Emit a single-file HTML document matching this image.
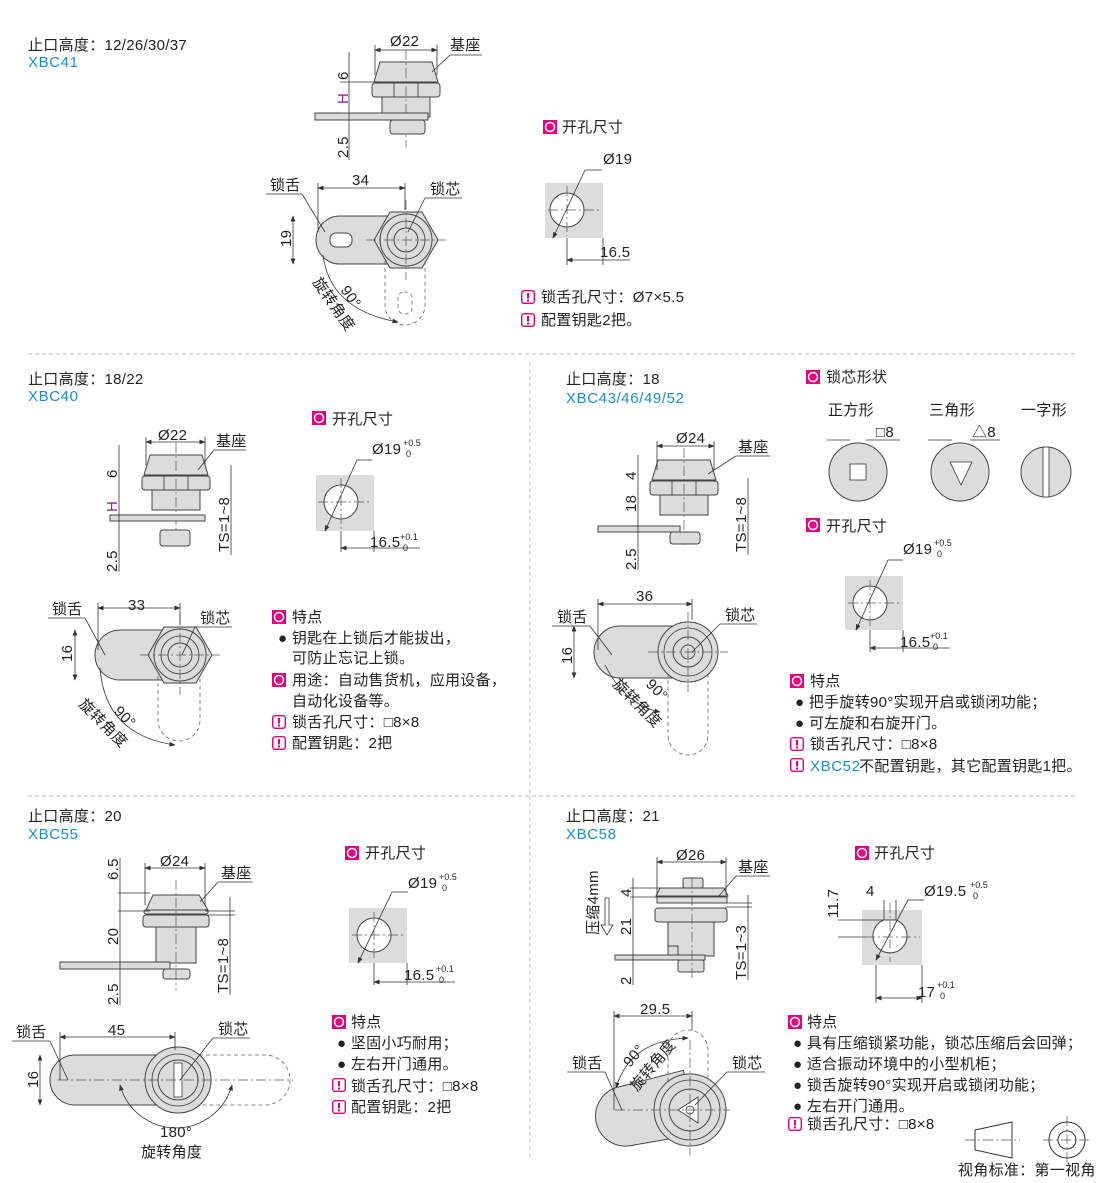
<!DOCTYPE html>
<html><head><meta charset="utf-8"><style>
html,body{margin:0;padding:0;background:#fff;}
svg{display:block;font-family:"Liberation Sans","Noto Sans CJK SC",sans-serif;}
.t{font-size:15px;fill:#222;letter-spacing:0.3px;}
.b{font-size:15px;fill:#1a8ccf;letter-spacing:0.6px;}
.s{font-size:13px;fill:#222;}
.sup{font-size:9px;fill:#222;}
.g{fill:#dcdcdc;stroke:#444;stroke-width:1;}
.l{stroke:#333;stroke-width:0.8;fill:none;}
.c{stroke:#555;stroke-width:0.7;fill:none;stroke-dasharray:10 3 2 3;}
.d{stroke:#666;stroke-width:0.8;fill:none;stroke-dasharray:4 3;}
.sep{stroke:#bbb;stroke-width:1;stroke-dasharray:4 3;}
</style></head><body>
<svg width="1110" height="1183" viewBox="0 0 1110 1183" xmlns="http://www.w3.org/2000/svg">
<defs>
<symbol id="side" overflow="visible">
<polygon class="g" points="-26,0 26,0 32,20 -32,20"/>
<rect class="g" x="-34" y="21" width="68" height="14" rx="3"/>
<line class="l" x1="-12" y1="21" x2="-12" y2="35"/><line class="l" x1="12" y1="21" x2="12" y2="35"/>
<rect class="g" x="-24" y="35" width="48" height="20"/>
<line class="c" x1="0" y1="-12" x2="0" y2="85"/>
</symbol>
<symbol id="plan" overflow="visible">
<polygon class="g" points="32,0 16,28 -16,28 -32,0 -16,-28 16,-28"/>
<circle class="g" r="26"/><circle class="l" r="19"/><circle class="g" r="12"/>
<line class="c" x1="-40" y1="0" x2="40" y2="0"/><line class="c" x1="0" y1="-40" x2="0" y2="40"/>
</symbol>
<symbol id="ic1" overflow="visible"><rect x="0" y="0" width="14" height="14" fill="#e4007f"/><circle cx="7" cy="7" r="4.5" fill="none" stroke="#fff" stroke-width="1.5"/></symbol>
<symbol id="ic2" overflow="visible"><rect x="0.7" y="0.7" width="12.6" height="12.6" rx="2.5" fill="#fff" stroke="#e4007f" stroke-width="1.4"/><rect x="6" y="3" width="2" height="5.5" fill="#e4007f"/><rect x="6" y="9.5" width="2" height="2" fill="#e4007f"/></symbol>
<marker id="a" markerWidth="8" markerHeight="6" refX="7" refY="3" orient="auto-start-reverse"><path d="M0,0L8,3L0,6z" fill="#333"/></marker>
</defs>

<line class="sep" x1="28" y1="354" x2="1078" y2="354"/>
<line class="sep" x1="28" y1="796" x2="1078" y2="796"/>
<line class="sep" x1="530" y1="362" x2="530" y2="1160"/>

<!-- ===== Section 1 ===== -->
<text class="t" x="28" y="50">止口高度：12/26/30/37</text>
<text class="b" x="28" y="67">XBC41</text>
<use href="#side" x="406" y="62"/>
<rect class="g" x="315" y="113" width="113" height="7"/>
<rect class="g" x="390" y="120" width="35" height="14" rx="3"/>
<line class="l" x1="375" y1="50" x2="437" y2="50" marker-start="url(#a)" marker-end="url(#a)"/>
<line class="l" x1="375" y1="45" x2="375" y2="75"/><line class="l" x1="437" y1="45" x2="437" y2="75"/>
<text class="t" x="390" y="46">Ø22</text>
<text class="t" x="450" y="50">基座</text><line class="l" x1="432" y1="72" x2="450" y2="55"/><line class="l" x1="450" y1="55" x2="482" y2="55"/>
<line class="l" x1="349" y1="52" x2="349" y2="160"/>
<line class="l" x1="340" y1="82" x2="380" y2="82"/><line class="l" x1="340" y1="113" x2="320" y2="113"/>
<text class="t" transform="translate(348,80) rotate(-90)">6</text>
<text class="t" transform="translate(348,104) rotate(-90)" style="fill:#8a2a8a">H</text>
<text class="t" transform="translate(348,158) rotate(-90)">2.5</text>
<path class="g" d="M340,216 L405,216 L405,264 L340,264 A24,24 0 0 1 340,216z"/>
<rect class="g" x="330" y="233" width="22" height="14" rx="6" style="fill:#fff"/>
<path class="d" d="M385,240 L385,305 A20,20 0 0 0 425,305 L425,240"/>
<rect class="d" x="398" y="292" width="14" height="22" rx="6"/>
<use href="#plan" x="406" y="240"/>
<line class="l" x1="318" y1="188" x2="405" y2="188" marker-start="url(#a)" marker-end="url(#a)"/>
<line class="l" x1="318" y1="183" x2="318" y2="232"/><line class="l" x1="405" y1="183" x2="405" y2="210"/>
<text class="t" x="352" y="185">34</text>
<text class="t" x="270" y="190">锁舌</text><line class="l" x1="266" y1="194" x2="302" y2="194"/><line class="l" x1="302" y1="194" x2="325" y2="232"/>
<text class="t" x="430" y="194">锁芯</text><line class="l" x1="425" y1="198" x2="462" y2="198"/><line class="l" x1="425" y1="198" x2="408" y2="232"/>
<line class="l" x1="293" y1="216" x2="293" y2="264" marker-start="url(#a)" marker-end="url(#a)"/>
<text class="t" transform="translate(291,247) rotate(-90)">19</text>
<path class="l" d="M323,255 Q330,310 398,322" marker-end="url(#a)"/>
<text class="t" transform="translate(312,282) rotate(55)">旋转角度</text>
<text class="t" transform="translate(340,290) rotate(55)">90°</text>
<use href="#ic1" x="543" y="120"/><text class="t" x="562" y="132">开孔尺寸</text>
<rect x="545" y="183" width="58" height="55" fill="#dcdcdc"/>
<circle cx="567" cy="210" r="17" fill="#fff" stroke="#444"/>
<line class="c" x1="548" y1="210" x2="600" y2="210"/><line class="c" x1="567" y1="186" x2="567" y2="236"/>
<line class="l" x1="585" y1="170" x2="602" y2="170"/><line class="l" x1="585" y1="170" x2="553" y2="238" marker-end="url(#a)"/>
<text class="t" x="603" y="164">Ø19</text>
<line class="l" x1="603" y1="238" x2="603" y2="265"/><line class="l" x1="567" y1="238" x2="567" y2="265"/>
<line class="l" x1="567" y1="260" x2="630" y2="260" marker-start="url(#a)"/>
<text class="t" x="600" y="257">16.5</text>
<use href="#ic2" x="521" y="290"/><text class="t" x="541" y="302">锁舌孔尺寸：Ø7×5.5</text>
<use href="#ic2" x="521" y="313"/><text class="t" x="541" y="325">配置钥匙2把。</text>

<!-- ===== Section 2 XBC40 ===== -->
<text class="t" x="28" y="384">止口高度：18/22</text>
<text class="b" x="28" y="401">XBC40</text>
<use href="#side" x="176" y="455"/>
<rect class="g" x="110" y="515" width="95" height="6"/>
<rect class="g" x="160" y="530" width="30" height="16" rx="3"/>
<line class="l" x1="146" y1="442" x2="205" y2="442" marker-start="url(#a)" marker-end="url(#a)"/>
<line class="l" x1="146" y1="437" x2="146" y2="465"/><line class="l" x1="205" y1="437" x2="205" y2="465"/>
<text class="t" x="158" y="440">Ø22</text>
<text class="t" x="216" y="446">基座</text><line class="l" x1="198" y1="470" x2="214" y2="450"/><line class="l" x1="214" y1="450" x2="246" y2="450"/>
<line class="l" x1="119" y1="445" x2="119" y2="572"/>
<text class="t" transform="translate(117,478) rotate(-90)">6</text>
<text class="t" transform="translate(117,512) rotate(-90)" style="fill:#8a2a8a">H</text>
<text class="t" transform="translate(117,572) rotate(-90)">2.5</text>
<line class="l" x1="231" y1="465" x2="231" y2="555"/>
<text class="t" transform="translate(229,552) rotate(-90)">TS=1~8</text>
<path class="g" d="M120,630 L180,630 L180,680 L120,680 A25,25 0 0 1 120,630z"/>
<path class="d" d="M158,655 L158,720 A21,21 0 0 0 200,720 L200,655"/>
<use href="#plan" x="180" y="655"/>
<line class="l" x1="98" y1="608" x2="180" y2="608" marker-start="url(#a)" marker-end="url(#a)"/>
<line class="l" x1="98" y1="603" x2="98" y2="650"/><line class="l" x1="180" y1="603" x2="180" y2="625"/>
<text class="t" x="128" y="610">33</text>
<text class="t" x="52" y="614">锁舌</text><line class="l" x1="48" y1="618" x2="85" y2="618"/><line class="l" x1="85" y1="618" x2="105" y2="655"/>
<text class="t" x="200" y="623">锁芯</text><line class="l" x1="195" y1="627" x2="232" y2="627"/><line class="l" x1="195" y1="627" x2="182" y2="655"/>
<line class="l" x1="75" y1="630" x2="75" y2="680" marker-start="url(#a)" marker-end="url(#a)"/>
<text class="t" transform="translate(72,662) rotate(-90)">16</text>
<path class="l" d="M100,668 Q105,735 175,745" marker-end="url(#a)"/>
<text class="t" transform="translate(78,705) rotate(45)">旋转角度</text>
<text class="t" transform="translate(113,712) rotate(45)">90°</text>
<use href="#ic1" x="312" y="411"/><text class="t" x="332" y="424">开孔尺寸</text>
<rect x="316" y="475" width="58" height="56" fill="#dcdcdc"/>
<circle cx="341" cy="502" r="17" fill="#fff" stroke="#444"/>
<line class="c" x1="318" y1="502" x2="372" y2="502"/><line class="c" x1="341" y1="478" x2="341" y2="530"/>
<line class="l" x1="357" y1="460" x2="372" y2="460"/><line class="l" x1="357" y1="460" x2="325" y2="531" marker-end="url(#a)"/>
<text class="t" x="372" y="454">Ø19</text><text class="sup" x="403" y="446">+0.5</text><text class="sup" x="406" y="457">0</text>
<line class="l" x1="341" y1="531" x2="341" y2="552"/><line class="l" x1="374" y1="531" x2="374" y2="552"/>
<line class="l" x1="341" y1="548" x2="420" y2="548" marker-start="url(#a)"/>
<text class="t" x="370" y="547">16.5</text><text class="sup" x="400" y="540">+0.1</text><text class="sup" x="403" y="551">0</text>
<use href="#ic1" x="272" y="610"/><text class="t" x="292" y="622">特点</text>
<text class="t" x="278" y="643">● 钥匙在上锁后才能拔出，</text>
<text class="t" x="292" y="663">可防止忘记上锁。</text>
<use href="#ic1" x="272" y="673"/><text class="t" x="292" y="685">用途：自动售货机，应用设备，</text>
<text class="t" x="292" y="706">自动化设备等。</text>
<use href="#ic2" x="272" y="715"/><text class="t" x="292" y="727">锁舌孔尺寸：□8×8</text>
<use href="#ic2" x="272" y="736"/><text class="t" x="292" y="748">配置钥匙：2把</text>

<!-- ===== Section 3 XBC43 ===== -->
<text class="t" x="566" y="384">止口高度：18</text>
<text class="b" x="566" y="403">XBC43/46/49/52</text>
<use href="#side" x="684" y="460"/>
<rect class="g" x="598" y="526" width="82" height="6"/>
<rect class="g" x="670" y="532" width="30" height="12" rx="3"/>
<line class="l" x1="657" y1="446" x2="714" y2="446" marker-start="url(#a)" marker-end="url(#a)"/>
<line class="l" x1="657" y1="441" x2="657" y2="470"/><line class="l" x1="714" y1="441" x2="714" y2="470"/>
<text class="t" x="676" y="443">Ø24</text>
<text class="t" x="738" y="452">基座</text><line class="l" x1="708" y1="474" x2="736" y2="456"/><line class="l" x1="736" y1="456" x2="770" y2="456"/>
<line class="l" x1="638" y1="455" x2="638" y2="570"/>
<text class="t" transform="translate(636,480) rotate(-90)">4</text>
<text class="t" transform="translate(636,512) rotate(-90)">18</text>
<text class="t" transform="translate(636,570) rotate(-90)">2.5</text>
<line class="l" x1="748" y1="478" x2="748" y2="555"/>
<text class="t" transform="translate(746,552) rotate(-90)">TS=1~8</text>
<path class="g" d="M620,626 L690,626 L690,678 L620,678 A26,26 0 0 1 620,626z"/>
<path class="d" d="M668,652 L668,735 A20,20 0 0 0 708,735 L708,652"/>
<g transform="translate(688,652)"><circle class="g" r="30"/><circle class="l" r="24"/><circle class="g" r="15"/><circle class="l" r="7"/><line class="c" x1="-40" y1="0" x2="40" y2="0"/><line class="c" x1="0" y1="-40" x2="0" y2="40"/></g>
<line class="l" x1="598" y1="604" x2="692" y2="604" marker-start="url(#a)" marker-end="url(#a)"/>
<line class="l" x1="598" y1="599" x2="598" y2="650"/><line class="l" x1="692" y1="599" x2="692" y2="620"/>
<text class="t" x="636" y="601">36</text>
<text class="t" x="557" y="622">锁舌</text><line class="l" x1="552" y1="626" x2="590" y2="626"/><line class="l" x1="590" y1="626" x2="612" y2="655"/>
<text class="t" x="725" y="620">锁芯</text><line class="l" x1="720" y1="624" x2="757" y2="624"/><line class="l" x1="720" y1="624" x2="692" y2="652"/>
<line class="l" x1="574" y1="626" x2="574" y2="678" marker-start="url(#a)" marker-end="url(#a)"/>
<text class="t" transform="translate(572,664) rotate(-90)">16</text>
<path class="l" d="M605,665 Q625,705 660,712" marker-end="url(#a)"/>
<text class="t" transform="translate(612,685) rotate(45)">旋转角度</text>
<text class="t" transform="translate(645,685) rotate(45)">90°</text>
<use href="#ic1" x="806" y="370"/><text class="t" x="826" y="382">锁芯形状</text>
<text class="t" x="828" y="415">正方形</text><text class="t" x="929" y="415">三角形</text><text class="t" x="1021" y="415">一字形</text>
<line class="l" x1="827" y1="440" x2="850" y2="440"/><line class="l" x1="866" y1="440" x2="900" y2="440"/><text class="t" x="876" y="437">□8</text>
<line class="l" x1="928" y1="440" x2="952" y2="440"/><line class="l" x1="970" y1="440" x2="1000" y2="440"/><text class="t" x="972" y="437">△8</text>
<circle class="g" cx="858" cy="472" r="29"/><rect class="l" x="850" y="464" width="16" height="16" style="fill:#fff"/>
<circle class="g" cx="960" cy="472" r="29"/><polygon class="l" points="950,462 972,462 961,485" style="fill:#fff"/>
<circle class="g" cx="1046" cy="472" r="25"/><rect class="l" x="1043" y="447" width="6" height="50" style="fill:#fff"/>
<use href="#ic1" x="806" y="518"/><text class="t" x="826" y="531">开孔尺寸</text>
<rect x="845" y="576" width="58" height="54" fill="#dcdcdc"/>
<circle cx="870" cy="603" r="17" fill="#fff" stroke="#444"/>
<line class="c" x1="848" y1="603" x2="900" y2="603"/><line class="c" x1="870" y1="580" x2="870" y2="628"/>
<line class="l" x1="888" y1="560" x2="903" y2="560"/><line class="l" x1="888" y1="560" x2="856" y2="630" marker-end="url(#a)"/>
<text class="t" x="903" y="554">Ø19</text><text class="sup" x="934" y="546">+0.5</text><text class="sup" x="937" y="557">0</text>
<line class="l" x1="870" y1="630" x2="870" y2="652"/><line class="l" x1="903" y1="630" x2="903" y2="652"/>
<line class="l" x1="870" y1="648" x2="950" y2="648" marker-start="url(#a)"/>
<text class="t" x="900" y="647">16.5</text><text class="sup" x="930" y="639">+0.1</text><text class="sup" x="933" y="650">0</text>
<use href="#ic1" x="790" y="674"/><text class="t" x="810" y="686">特点</text>
<text class="t" x="795" y="707">● 把手旋转90°实现开启或锁闭功能；</text>
<text class="t" x="795" y="728">● 可左旋和右旋开门。</text>
<use href="#ic2" x="790" y="737"/><text class="t" x="810" y="749">锁舌孔尺寸：□8×8</text>
<use href="#ic2" x="790" y="758"/><text class="b" x="810" y="771">XBC52</text><text class="t" x="859" y="771">不配置钥匙，其它配置钥匙1把。</text>

<!-- ===== Section 4 XBC55 ===== -->
<text class="t" x="28" y="821">止口高度：20</text>
<text class="b" x="28" y="839">XBC55</text>
<polygon class="g" points="153,895 199,895 208,910 146,910"/>
<rect class="g" x="144" y="910" width="64" height="4" rx="2"/>
<rect class="g" x="143" y="915" width="66" height="12" rx="3"/>
<rect class="g" x="156" y="927" width="40" height="36"/>
<rect class="g" x="60" y="962" width="110" height="7"/>
<rect class="g" x="163" y="969" width="27" height="10" rx="3"/>
<line class="c" x1="176" y1="880" x2="176" y2="990"/>
<line class="l" x1="145" y1="868" x2="205" y2="868" marker-start="url(#a)" marker-end="url(#a)"/>
<line class="l" x1="145" y1="863" x2="145" y2="905"/><line class="l" x1="205" y1="863" x2="205" y2="905"/>
<text class="t" x="160" y="866">Ø24</text>
<text class="t" x="221" y="878">基座</text><line class="l" x1="200" y1="902" x2="218" y2="882"/><line class="l" x1="218" y1="882" x2="253" y2="882"/>
<line class="l" x1="120" y1="858" x2="120" y2="1005"/><line class="l" x1="118" y1="893" x2="150" y2="893"/><line class="l" x1="118" y1="911" x2="150" y2="911"/>
<text class="t" transform="translate(118,880) rotate(-90)">6.5</text>
<text class="t" transform="translate(118,945) rotate(-90)">20</text>
<text class="t" transform="translate(118,1005) rotate(-90)">2.5</text>
<line class="l" x1="230" y1="897" x2="230" y2="995"/><line class="l" x1="205" y1="911" x2="235" y2="911"/><line class="l" x1="205" y1="915" x2="235" y2="915"/>
<text class="t" transform="translate(228,993) rotate(-90)">TS=1~8</text>
<path class="g" d="M75,1055 L178,1055 L178,1105 L75,1105 A25,25 0 0 1 75,1055z"/>
<path class="d" d="M178,1055 L265,1055 A25,25 0 0 1 265,1105 L178,1105"/>
<g transform="translate(178,1080)"><circle class="g" r="33"/><circle class="l" r="26"/><circle class="g" r="20"/><rect class="l" x="-4" y="-17" width="8" height="34" style="fill:#fff"/><line class="c" x1="-120" y1="0" x2="115" y2="0"/></g>
<line class="l" x1="60" y1="1037" x2="175" y2="1037" marker-start="url(#a)" marker-end="url(#a)"/>
<line class="l" x1="60" y1="1032" x2="60" y2="1080"/><line class="l" x1="175" y1="1032" x2="175" y2="1050"/>
<text class="t" x="108" y="1035">45</text>
<text class="t" x="16" y="1037">锁舌</text><line class="l" x1="12" y1="1041" x2="50" y2="1041"/><line class="l" x1="50" y1="1041" x2="68" y2="1080"/>
<text class="t" x="218" y="1034">锁芯</text><line class="l" x1="213" y1="1038" x2="250" y2="1038"/><line class="l" x1="213" y1="1038" x2="180" y2="1080"/>
<line class="l" x1="40" y1="1055" x2="40" y2="1105" marker-start="url(#a)" marker-end="url(#a)"/>
<text class="t" transform="translate(38,1088) rotate(-90)">16</text>
<path class="l" d="M120,1085 A58,58 0 0 0 232,1085" marker-start="url(#a)" marker-end="url(#a)"/>
<text class="t" x="160" y="1137">180°</text>
<text class="t" x="141" y="1157">旋转角度</text>
<use href="#ic1" x="345" y="846"/><text class="t" x="365" y="858">开孔尺寸</text>
<rect x="349" y="908" width="58" height="55" fill="#dcdcdc"/>
<circle cx="374" cy="935" r="17" fill="#fff" stroke="#444"/>
<line class="c" x1="352" y1="935" x2="405" y2="935"/><line class="c" x1="374" y1="912" x2="374" y2="960"/>
<line class="l" x1="392" y1="892" x2="408" y2="892"/><line class="l" x1="392" y1="892" x2="358" y2="963" marker-end="url(#a)"/>
<text class="t" x="408" y="888">Ø19</text><text class="sup" x="439" y="880">+0.5</text><text class="sup" x="442" y="891">0</text>
<line class="l" x1="374" y1="963" x2="374" y2="985"/><line class="l" x1="407" y1="963" x2="407" y2="985"/>
<line class="l" x1="374" y1="982" x2="455" y2="982" marker-start="url(#a)"/>
<text class="t" x="404" y="980">16.5</text><text class="sup" x="436" y="972">+0.1</text><text class="sup" x="439" y="983">0</text>
<use href="#ic1" x="332" y="1015"/><text class="t" x="351" y="1027">特点</text>
<text class="t" x="337" y="1048">● 坚固小巧耐用；</text>
<text class="t" x="337" y="1069">● 左右开门通用。</text>
<use href="#ic2" x="332" y="1078"/><text class="t" x="351" y="1091">锁舌孔尺寸：□8×8</text>
<use href="#ic2" x="332" y="1100"/><text class="t" x="351" y="1112">配置钥匙：2把</text>

<!-- ===== Section 5 XBC58 ===== -->
<text class="t" x="566" y="821">止口高度：21</text>
<text class="b" x="566" y="839">XBC58</text>
<rect class="g" x="683" y="878" width="20" height="10" rx="2"/>
<polygon class="g" points="660,888 724,888 728,896 656,896"/>
<rect class="g" x="657" y="897" width="70" height="6"/>
<rect class="g" x="655" y="908" width="72" height="14" rx="3"/>
<rect class="g" x="668" y="922" width="46" height="34"/>
<rect class="g" x="668" y="946" width="10" height="14"/>
<rect class="g" x="615" y="955" width="90" height="5"/>
<rect class="g" x="678" y="960" width="26" height="12" rx="2"/>
<line class="c" x1="692" y1="878" x2="692" y2="980"/>
<line class="l" x1="657" y1="862" x2="726" y2="862" marker-start="url(#a)" marker-end="url(#a)"/>
<line class="l" x1="657" y1="857" x2="657" y2="895"/><line class="l" x1="726" y1="857" x2="726" y2="895"/>
<text class="t" x="676" y="860">Ø26</text>
<text class="t" x="738" y="872">基座</text><line class="l" x1="718" y1="897" x2="736" y2="876"/><line class="l" x1="736" y1="876" x2="770" y2="876"/>
<line class="l" x1="633" y1="878" x2="633" y2="985"/><line class="l" x1="630" y1="888" x2="660" y2="888"/><line class="l" x1="630" y1="897" x2="660" y2="897"/>
<text class="t" transform="translate(631,897) rotate(-90)">4</text>
<text class="t" transform="translate(631,935) rotate(-90)">21</text>
<text class="t" transform="translate(631,985) rotate(-90)">2</text>
<text class="t" transform="translate(598,935) rotate(-90)">压缩4mm</text>
<path class="l" d="M605,898 L605,925 L601,925 L607,935 L613,925 L609,925 L609,898z"/>
<line class="l" x1="748" y1="895" x2="748" y2="980"/><line class="l" x1="725" y1="903" x2="752" y2="903"/><line class="l" x1="725" y1="907" x2="752" y2="907"/>
<text class="t" transform="translate(746,980) rotate(-90)">TS=1~3</text>
<path class="g" d="M625,1080 L690,1075 L690,1140 L625,1140 A30,30 0 0 1 625,1080z" transform="rotate(-10 660 1110)"/>
<path class="d" d="M668,1110 L668,1050 A20,20 0 0 1 708,1050 L708,1110"/>
<g transform="translate(690,1110)"><circle class="g" r="36"/><circle class="l" r="30"/><circle class="g" r="21"/><polygon class="l" points="-12,0 8,-13 8,13" style="fill:#fff"/><circle class="l" r="4"/><line class="c" x1="-75" y1="0" x2="40" y2="0"/><line class="c" x1="0" y1="-70" x2="0" y2="45"/></g>
<line class="l" x1="614" y1="1016" x2="692" y2="1016" marker-start="url(#a)" marker-end="url(#a)"/>
<line class="l" x1="614" y1="1011" x2="614" y2="1110"/><line class="l" x1="692" y1="1011" x2="692" y2="1030"/>
<text class="t" x="640" y="1014">29.5</text>
<text class="t" x="572" y="1068">锁舌</text><line class="l" x1="567" y1="1072" x2="605" y2="1072"/><line class="l" x1="605" y1="1072" x2="622" y2="1110"/>
<text class="t" x="732" y="1068">锁芯</text><line class="l" x1="727" y1="1072" x2="765" y2="1072"/><line class="l" x1="727" y1="1072" x2="695" y2="1105"/>
<path class="l" d="M616,1088 Q630,1040 688,1038" marker-start="url(#a)" marker-end="url(#a)"/>
<text class="t" transform="translate(630,1068) rotate(-50)">90°</text>
<text class="t" transform="translate(637,1092) rotate(-50)">旋转角度</text>
<use href="#ic1" x="855" y="846"/><text class="t" x="874" y="858">开孔尺寸</text>
<rect x="862" y="910" width="60" height="55" fill="#dcdcdc"/>
<path d="M884,920 L896,920 A17,17 0 1 1 884,920z" fill="#fff" stroke="#444"/>
<line class="c" x1="865" y1="937" x2="920" y2="937"/><line class="c" x1="890" y1="903" x2="890" y2="962"/>
<line class="l" x1="884" y1="900" x2="884" y2="920"/><line class="l" x1="896" y1="900" x2="896" y2="920"/>
<text class="t" x="866" y="896">4</text>
<line class="l" x1="908" y1="900" x2="924" y2="900"/><line class="l" x1="908" y1="900" x2="876" y2="960" marker-end="url(#a)"/>
<text class="t" x="924" y="896">Ø19.5</text><text class="sup" x="970" y="888">+0.5</text><text class="sup" x="973" y="899">0</text>
<line class="l" x1="838" y1="920" x2="884" y2="920"/><line class="l" x1="838" y1="937" x2="865" y2="937"/>
<text class="t" transform="translate(838,918) rotate(-90)">11.7</text>
<line class="l" x1="876" y1="965" x2="876" y2="1003"/><line class="l" x1="922" y1="965" x2="922" y2="1003"/>
<line class="l" x1="876" y1="998" x2="922" y2="998" marker-start="url(#a)" marker-end="url(#a)"/>
<text class="t" x="918" y="997">17</text><text class="sup" x="937" y="988">+0.1</text><text class="sup" x="940" y="999">0</text>
<use href="#ic1" x="788" y="1015"/><text class="t" x="807" y="1027">特点</text>
<text class="t" x="793" y="1048">● 具有压缩锁紧功能，锁芯压缩后会回弹；</text>
<text class="t" x="793" y="1069">● 适合振动环境中的小型机柜；</text>
<text class="t" x="793" y="1090">● 锁舌旋转90°实现开启或锁闭功能；</text>
<text class="t" x="793" y="1111">● 左右开门通用。</text>
<use href="#ic2" x="788" y="1117"/><text class="t" x="807" y="1129">锁舌孔尺寸：□8×8</text>

<polygon class="l" points="975,1130 1012,1122 1012,1158 975,1150" style="stroke-width:1"/>
<line class="c" x1="965" y1="1140" x2="1020" y2="1140"/>
<circle class="l" cx="1067" cy="1140" r="18" style="stroke-width:1"/><circle class="l" cx="1067" cy="1140" r="9" style="stroke-width:1"/>
<line class="c" x1="1043" y1="1140" x2="1091" y2="1140"/><line class="c" x1="1067" y1="1116" x2="1067" y2="1164"/>
<text class="t" x="958" y="1175">视角标准：第一视角</text>
</svg>
</body></html>
